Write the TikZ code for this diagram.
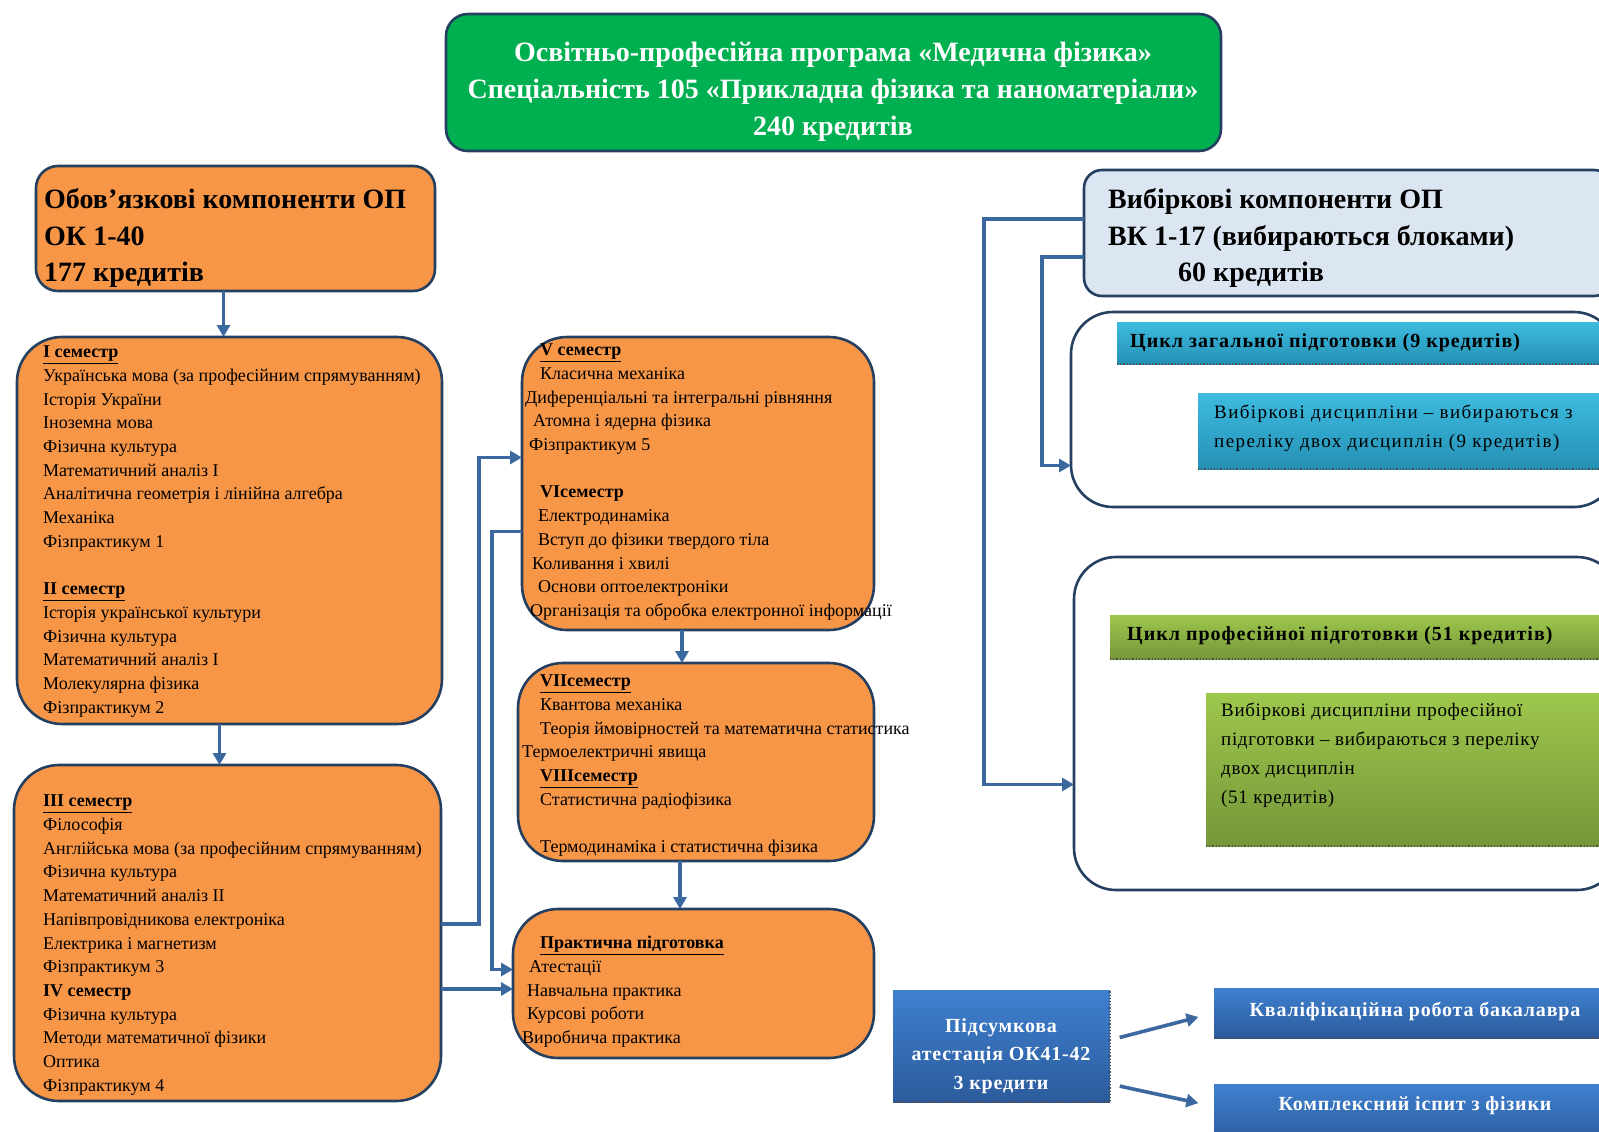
\documentclass[tikz,border=0pt]{standalone}
\usepackage{fontspec}
\setmainfont{Liberation Serif}
\usetikzlibrary{arrows.meta}

\definecolor{orangeF}{HTML}{F79646}
\definecolor{navyB}{HTML}{243F60}
\definecolor{linkB}{HTML}{3C68A0}
\definecolor{greenH}{HTML}{00B050}
\definecolor{selF}{HTML}{DCE6F2}
\definecolor{cyanT}{HTML}{3DBCE0}
\definecolor{cyanD}{HTML}{2590B4}
\definecolor{greenT}{HTML}{9DC74C}
\definecolor{greenD}{HTML}{76973A}
\definecolor{blueT}{HTML}{3F80CF}
\definecolor{blueD}{HTML}{2B5B9C}

\newcommand\listfont{\fontsize{18}{23.7}\selectfont}
\newcommand\bigfont{\fontsize{28}{36.5}\selectfont\bfseries}
\newcommand\headfont{\fontsize{28}{37}\selectfont\bfseries}
\newcommand\barfont{\fontsize{20}{22}\selectfont\bfseries\addfontfeature{LetterSpace=5}}
\newcommand\geninfont{\fontsize{19}{29}\selectfont\addfontfeature{LetterSpace=7.5}}
\newcommand\profinfont{\fontsize{19}{29}\selectfont\addfontfeature{LetterSpace=3.5}}
\newcommand\bluefont{\fontsize{20}{28.5}\selectfont\bfseries\addfontfeature{LetterSpace=4}}
\newcommand\semhead[1]{\underline{\textbf{#1}}}

\tikzset{
  frame/.style={draw=navyB, line width=2.6pt, anchor=north west, inner sep=0pt, outer sep=0pt},
  hbox/.style={frame, fill=greenH, rounded corners=22pt},
  okbox/.style={frame, fill=orangeF, rounded corners=22pt},
  obox/.style={frame, fill=orangeF, rounded corners=45pt},
  selbox/.style={frame, fill=selF, rounded corners=18pt},
  cyclebox/.style={frame, fill=white, rounded corners=42pt},
  bar/.style={anchor=north west, inner sep=0pt, outer sep=0pt},
  cyanbar/.style={bar, top color=cyanT, bottom color=cyanD},
  greenbar/.style={bar, top color=greenT, bottom color=greenD},
  bluebar/.style={bar, top color=blueT, bottom color=blueD},
  txt/.style={anchor=north west, inner sep=0pt, align=left},
  link/.style={draw=linkB, line width=3.6pt, -{Triangle[length=12pt,width=13pt]}},
  dots/.style={draw=black!70, dotted, line width=1.2pt}
}

\begin{document}
\begin{tikzpicture}[x=1pt,y=-1pt]
\useasboundingbox (0,0) rectangle (1599,1132);

% програма
\node[hbox, minimum width=775pt, minimum height=137pt] (prog) at (446,14) {};
\node[txt, anchor=north, align=center, text=white, font=\headfont] (progt) at (833,35)
  {\strut Освітньо-професійна програма «Медична фізика»\\
   Спеціальність 105 «Прикладна фізика та наноматеріали»\\
   240 кредитів};

% обов'язкові компоненти
\node[okbox, minimum width=399pt, minimum height=125pt] (ok) at (36,166) {};
\node[obox, minimum width=425pt, minimum height=387pt] (sem12) at (17,337) {};
\node[obox, minimum width=427pt, minimum height=336pt] (sem34) at (14,765) {};
\node[obox, minimum width=352pt, minimum height=293pt] (sem56) at (522,337) {};
\node[obox, minimum width=356pt, minimum height=198pt] (sem78) at (518,663) {};
\node[obox, minimum width=361pt, minimum height=149pt] (prak) at (513,909) {};

% вибіркові компоненти
\node[selbox, minimum width=528pt, minimum height=126pt] (sel) at (1084,170) {};
\node[cyclebox, minimum width=545pt, minimum height=195pt] (gen) at (1071,312) {};
\node[cyclebox, minimum width=545pt, minimum height=333pt] (prof) at (1074,557) {};
\node[cyanbar, minimum width=503pt, minimum height=42pt] (genbar) at (1117,322) {};
\node[cyanbar, minimum width=422pt, minimum height=76pt] (genin) at (1198,393) {};
\node[greenbar, minimum width=510pt, minimum height=44pt] (profbar) at (1110,615) {};
\node[greenbar, minimum width=414pt, minimum height=153pt] (profin) at (1206,693) {};
\draw[dots] (genbar.south west) -- (genbar.south east);
\draw[dots] (genin.south west) -- (genin.south east);
\draw[dots] (profbar.south west) -- (profbar.south east);
\draw[dots] (profin.south west) -- (profin.south east);

% атестація
\node[bluebar, minimum width=217pt, minimum height=112pt] (pids) at (893,990) {};
\node[bluebar, minimum width=406pt, minimum height=50pt] (kval) at (1214,988) {};
\node[bluebar, minimum width=406pt, minimum height=61pt] (kompl) at (1214,1084) {};
\draw[dots] (pids.south west) -- (pids.south east) -- (pids.north east);
\draw[dots] (kval.south west) -- (kval.south east);

% зв'язки
\draw[link] ([xshift=-12pt]ok.south) -- ([xshift=-12pt]ok.south |- sem12.north);
\draw[link] ([xshift=-10pt]sem12.south) -- ([xshift=-10pt]sem12.south |- sem34.north);
\draw[link] ([xshift=-16pt]sem56.south) -- ([xshift=-16pt]sem56.south |- sem78.north);
\draw[link] ([xshift=-16pt]sem78.south) -- ([xshift=-16pt]sem78.south |- prak.north);
\draw[link] ([yshift=9pt]sem34.east) -- ++(38,0) |- ([yshift=26pt]sem56.west);
\draw[link] ([yshift=-48pt]sem56.west) -- ++(-30,0) |- ([yshift=14pt]prak.west);
\draw[link] ([yshift=-56pt]sem34.east) -- ([yshift=-56pt]sem34.east -| prak.west);
\draw[link] ([yshift=14pt]sel.west) -- ++(-100,0) |- ([yshift=-61pt]prof.west);
\draw[link] ([yshift=-24pt]sel.west) -- ++(-42,0) |- ([yshift=-56pt]gen.west);
\draw[link, shorten <=10pt, shorten >=16pt] ([yshift=6pt]pids.east) -- (kval.west);
\draw[link, shorten <=10pt, shorten >=16pt] ([yshift=-38pt]pids.east) -- ([yshift=8pt]kompl.west);

% тексти
\node[txt, font=\bigfont] (okt) at (44,183) {\strut Обов’язкові компоненти ОП\\ОК 1-40\\177 кредитів};
\node[txt, font=\bigfont] (selt) at (1108,183) {\strut Вибіркові компоненти ОП\\ВК 1-17 (вибираються блоками)\\\hspace*{70pt}60 кредитів};

\node[txt, font=\listfont] (sem12t) at (43,341) {\strut\semhead{I семестр}\\
  Українська мова (за професійним спрямуванням)\\
  Історія України\\
  Іноземна мова\\
  Фізична культура\\
  Математичний аналіз  I\\
  Аналітична геометрія і лінійна алгебра\\
  Механіка\\
  Фізпрактикум 1\\[23.7pt]
  \semhead{II семестр}\\
  Історія української культури\\
  Фізична культура\\
  Математичний аналіз  I\\
  Молекулярна фізика\\
  Фізпрактикум 2};

\node[txt, font=\listfont] (sem34t) at (43,790) {\strut\semhead{III семестр}\\
  Філософія\\
  Англійська мова (за професійним спрямуванням)\\
  Фізична культура\\
  Математичний аналіз  II\\
  Напівпровідникова електроніка\\
  Електрика і магнетизм\\
  Фізпрактикум 3\\
  \textbf{IV семестр}\\
  Фізична культура\\
  Методи математичної фізики\\
  Оптика\\
  Фізпрактикум 4};

\node[txt, font=\listfont] (sem56t) at (525,339) {\hspace*{15pt}\strut\semhead{V семестр}\\
  \hspace*{15pt}Класична механіка\\
  Диференціальні та інтегральні рівняння\\
  \hspace*{8pt}Атомна і ядерна фізика\\
  \hspace*{4pt}Фізпрактикум 5\\[23.7pt]
  \hspace*{15pt}\textbf{VIсеместр}\\
  \hspace*{13pt}Електродинаміка\\
  \hspace*{13pt}Вступ до фізики твердого тіла\\
  \hspace*{7pt}Коливання і хвилі\\
  \hspace*{13pt}Основи оптоелектроніки\\
  \hspace*{5pt}Організація та обробка електронної інформації};

\node[txt, font=\listfont] (sem78t) at (522,670) {\hspace*{18pt}\strut\semhead{VIIсеместр}\\
  \hspace*{18pt}Квантова механіка\\
  \hspace*{18pt}Теорія ймовірностей та математична статистика\\
  Термоелектричні явища\\
  \hspace*{18pt}\semhead{VIIIсеместр}\\
  \hspace*{18pt}Статистична радіофізика\\[23.7pt]
  \hspace*{18pt}Термодинаміка і статистична фізика};

\node[txt, font=\listfont] (prakt) at (522,932) {\hspace*{18pt}\strut\semhead{Практична підготовка}\\
  \hspace*{7pt}Атестації\\
  \hspace*{5pt}Навчальна практика\\
  \hspace*{5pt}Курсові роботи\\
  Виробнича практика};

\node[anchor=base west, inner sep=0pt, font=\barfont] (genbart) at (1130,347) {Цикл загальної підготовки (9 кредитів)};
\node[txt, font=\geninfont] (genint) at (1214,398) {\strut Вибіркові дисципліни – вибираються з\\переліку двох дисциплін (9 кредитів)};
\node[anchor=base west, inner sep=0pt, font=\barfont] (profbart) at (1127,640) {Цикл професійної підготовки (51 кредитів)};
\node[txt, font=\profinfont] (profint) at (1221,696) {\strut Вибіркові дисципліни професійної\\підготовки – вибираються з переліку\\двох дисциплін\\(51 кредитів)};

\node[txt, anchor=north, align=center, text=white, font=\bluefont] (pidst) at (1001,1012) {\strut Підсумкова\\атестація ОК41-42\\3 кредити};
\node[anchor=base, inner sep=0pt, text=white, font=\bluefont] (kvalt) at (1415,1016) {Кваліфікаційна робота бакалавра};
\node[anchor=base, inner sep=0pt, text=white, font=\bluefont] (komplt) at (1415,1110) {Комплексний іспит з фізики};
\end{tikzpicture}
\end{document}
